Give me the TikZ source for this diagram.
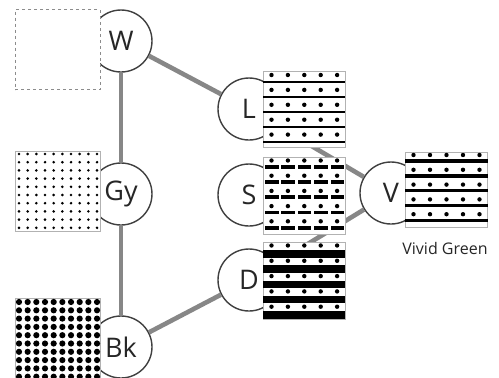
\documentclass[tikz,border=0pt]{standalone}
\usepackage{fontspec}
\setmainfont{Open Sans}
\begin{document}
\begin{tikzpicture}[x=1pt,y=-1pt,
  conn/.style={draw=black!47, line width=4.6pt},
  hub/.style={circle, draw=black!75, line width=1.4pt, fill=white, minimum size=62pt, inner sep=0pt, font=\fontsize{27}{27}\selectfont, text=black!85},
  swatch/.style={draw=black!30, line width=0.8pt, fill=white, inner sep=0pt},
  leftsw/.style={swatch, minimum width=85pt, minimum height=80pt},
  rightsw/.style={swatch, minimum width=82pt, minimum height=76pt},
]
\useasboundingbox (0,0) rectangle (499,378);
% hubs
\node[hub] (W) at (121,41) {W};
\node[hub] (Gy) at (121,194) {Gy};
\node[hub] (Bk) at (121,347) {Bk};
\node[hub] (L) at (249,109) {L};
\node[hub] (S) at (249,195) {S};
\node[hub] (D) at (249,280) {D};
\node[hub] (V) at (391,193) {V};
% connectors
\draw[conn] (W) -- (Gy);
\draw[conn] (Gy) -- (Bk);
\draw[conn] (W) -- (L);
\draw[conn] (Bk) -- (D);
\draw[conn] (L) -- (V);
\draw[conn] (D) -- (V);
% swatches
\node[leftsw, draw=black!45, dashed] (sW) at (57.5,49.5) {};
\node[leftsw] (sGy) at (57.5,191) {};
\node[leftsw] (sBk) at (57.5,338) {};
\node[rightsw] (sL) at (304,109.5) {};
\node[rightsw, minimum height=77pt] (sS) at (304,195.5) {};
\node[rightsw, minimum height=77pt] (sD) at (304,280.5) {};
\node[rightsw, minimum height=75pt] (sV) at (446.5,189.5) {};
% Gy dots
\foreach \i in {0,...,9}{\foreach \j in {0,...,9}{
  \fill (19+8.67*\i,154+8.2*\j) circle (1.45pt);}}
% Bk dots
\begin{scope}
\clip (15,298) rectangle (100,378);
\foreach \i in {0,...,9}{\foreach \j in {0,...,9}{
  \fill (19+8.67*\i,302+8.3*\j) circle (3.1pt);}}
\end{scope}
% L pattern
\foreach \k in {0,...,4}{
  \foreach \i in {0,...,4}{\fill (271.5+16.4*\i,75+14.9*\k) circle (2.2pt);}
  \fill (263,81.2+14.9*\k) rectangle (345,83.2+14.9*\k);}
% S pattern
\foreach \k in {0,...,4}{
  \foreach \i in {0,...,4}{
    \fill (271.5+16.4*\i,160.5+15.2*\k) circle (2.2pt);
    \fill (265+16.4*\i,165+15.2*\k) rectangle (278.5+16.4*\i,168.8+15.2*\k);}}
% D pattern
\foreach \k in {0,...,4}{
  \foreach \i in {0,...,4}{\fill (271.5+16.4*\i,245.5+15.3*\k) circle (2.2pt);}
  \fill (263,250+15.3*\k) rectangle (345,257.5+15.3*\k);}
% V pattern
\foreach \k in {0,...,4}{
  \foreach \i in {0,...,4}{\fill (413.5+16.5*\i,155+14.8*\k) circle (2.2pt);}
  \fill (405,159.3+14.8*\k) rectangle (488,162.8+14.8*\k);}
\node[font=\fontsize{16}{16}\selectfont, text=black!85] (vg) at (445,248) {Vivid Green};
\end{tikzpicture}
\end{document}
